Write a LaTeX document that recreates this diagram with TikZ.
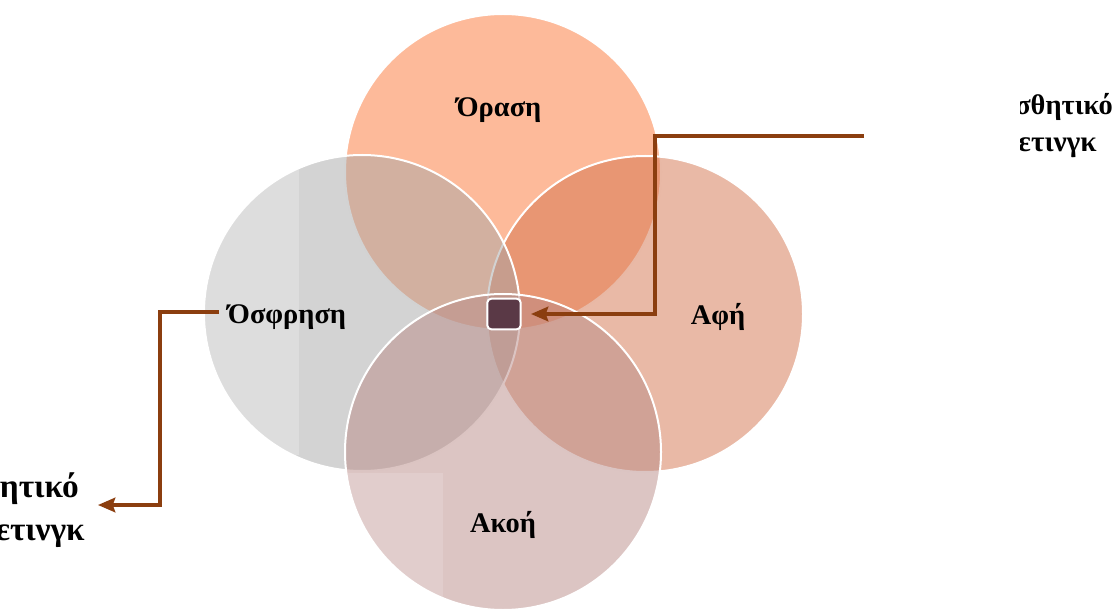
\documentclass[tikz,border=0pt]{standalone}
\usepackage{fontspec}
\setmainfont{Liberation Serif}
\usetikzlibrary{arrows.meta}
\definecolor{cTop}{RGB}{251,117,53}
\definecolor{cRight}{RGB}{211,115,77}
\definecolor{cLeft}{RGB}{167,167,167}
\definecolor{cBottom}{RGB}{185,139,135}
\definecolor{cSq}{RGB}{90,57,70}
\definecolor{cArrow}{RGB}{139,62,15}
\begin{document}
\begin{tikzpicture}[x=0.75pt,y=-0.75pt,
  circ/.style={circle,minimum size=237pt,inner sep=0pt,draw=white,line width=1.5pt,fill opacity=0.5},
  lbl/.style={font=\fontsize{21.3}{25}\selectfont\bfseries,anchor=base,inner sep=0pt},
  sidebig/.style={font=\fontsize{25}{30}\selectfont\bfseries,anchor=base east,inner sep=0pt},
  conn/.style={draw=cArrow,line width=2.3pt,-{Stealth[length=13pt,width=11pt,inset=2pt]}},
  centre/.style={rectangle,rounded corners=3pt,minimum width=25pt,minimum height=23pt,inner sep=0pt,fill=cSq,draw=white,line width=1.5pt},
  strip/.style={white,opacity=#1}
  ]
\useasboundingbox (0,0) rectangle (1120,609);
% circles
\node[circ,fill=cTop] (top) at (503,172) {};
\node[circ,fill=cRight] (right) at (645,314) {};
\node[circ,fill=cLeft] (left) at (362,313) {};
\node[circ,fill=cBottom] (bottom) at (503,452) {};
% tile artefacts
\begin{scope}
  \clip (362,313) circle[radius=157];
  \fill[strip=0.23] (200,150) rectangle (299,455);
\end{scope}
\begin{scope}
  \clip (503,452) circle[radius=157];
  \fill[strip=0.15] (340,473) rectangle (443,612);
\end{scope}
% centre square
\node[centre] (sq) at (504,314) {};
% labels
\node[lbl] (tOrasi) at (499,117) {Όραση};
\node[lbl] (tAfi) at (718,325) {Αφή};
\node[lbl] (tOsf) at (287,324) {Όσφρηση};
\node[lbl] (tAkoi) at (503,532) {Ακοή};
% clipped side texts
\begin{scope}
  \clip (1020,0) rectangle (1120,200);
  \node[lbl,anchor=base east] (rt1) at (1113,115) {Αισθητικό};
  \node[lbl,anchor=base east,font=\fontsize{22}{26}\selectfont\bfseries] (rt2) at (1097,152) {μάρκετινγκ};
\end{scope}
\begin{scope}
  \clip (0,450) rectangle (100,609);
  \node[sidebig] (lt1) at (79,497) {Αισθητικό};
  \node[sidebig] (lt2) at (85,540) {μάρκετινγκ};
\end{scope}
% connectors
\coordinate (rstart) at (864,136);
\coordinate (rbend) at (655,314);
\draw[conn,shorten >=7pt] (rstart) -| (rbend) -- (rbend -| sq.east);
\coordinate (lstart) at (219,312);
\coordinate (lbend) at (160,505);
\coordinate (lend) at (98,505);
\draw[conn] (lstart) -| (lbend) -- (lend);
\end{tikzpicture}
\end{document}
